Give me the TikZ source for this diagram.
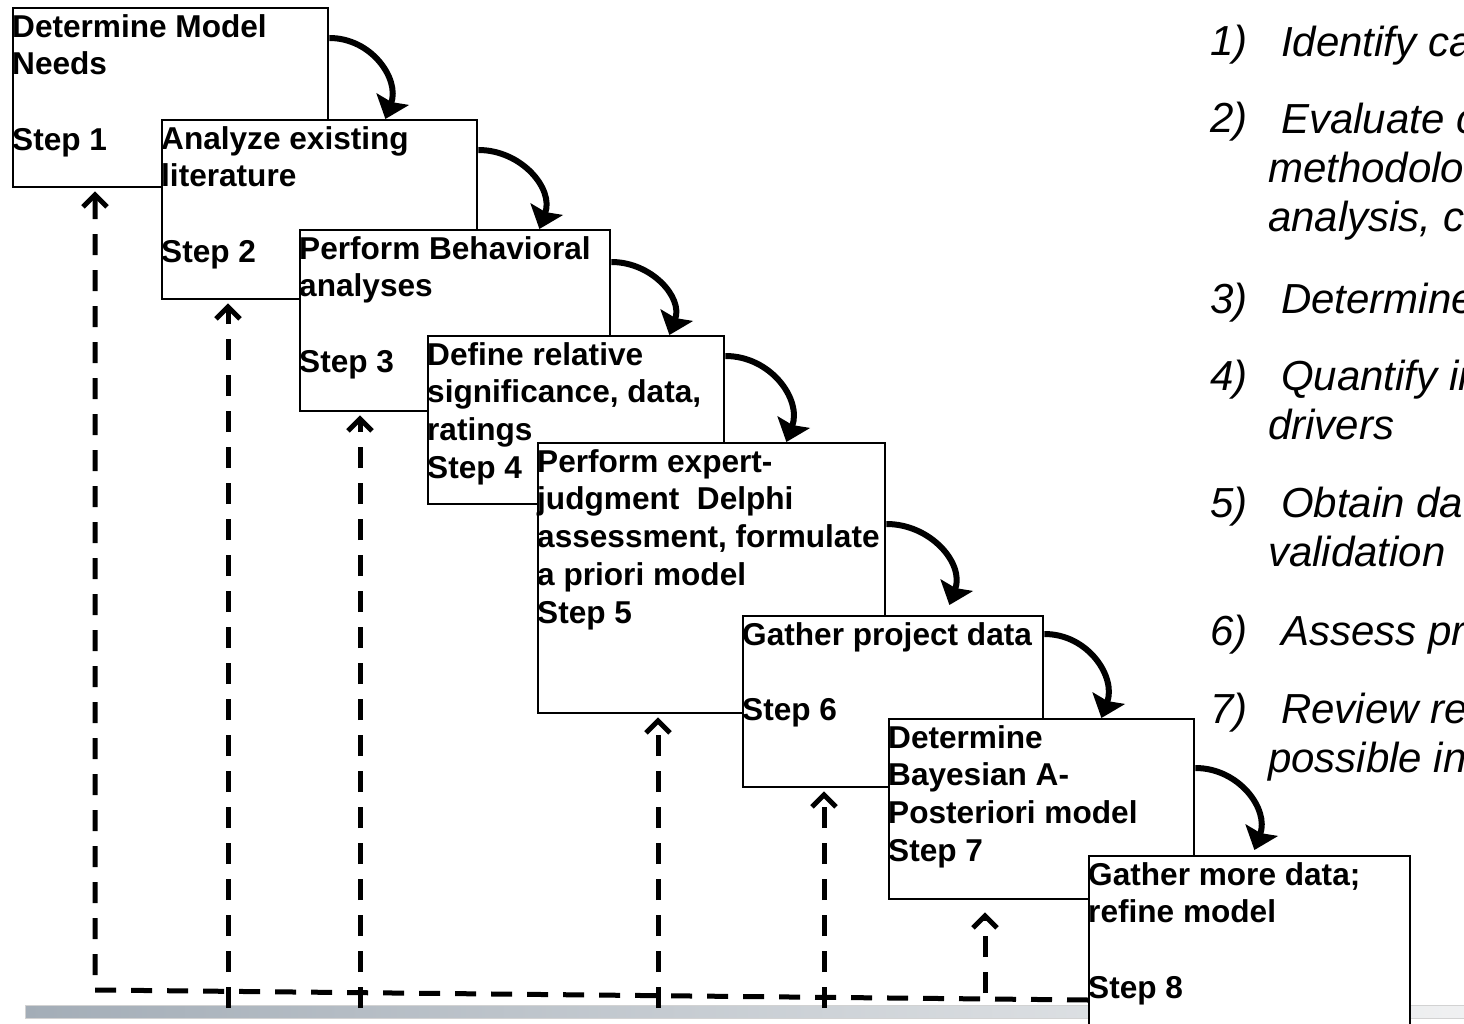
\documentclass[tikz,border=0pt]{standalone}
\usepackage{fontspec}
\setmainfont{Liberation Sans}
\usetikzlibrary{arrows.meta,calc}

\definecolor{barleft}{HTML}{A3ADB7}
\definecolor{barright}{HTML}{F0F1F2}

\begin{document}
\begin{tikzpicture}[x=1pt,y=1pt,
		stepbox/.style={rectangle, draw=black, line width=2.4pt, fill=white, anchor=north west, inner sep=0pt},
		steptext/.style={anchor=north west, inner sep=0pt, align=left, font=\bfseries\fontsize{31.6}{37.7}\selectfont},
		listnum/.style={anchor=base west, inner sep=0pt, font=\itshape\fontsize{42}{49}\selectfont},
		listtext/.style={anchor=north west, inner sep=0pt, align=left, font=\itshape\fontsize{42}{49}\selectfont},
		flow/.style={-{Stealth[width=34pt,length=21pt,inset=3pt]}, line width=6pt, looseness=1.1},
		feedback/.style={-{Straight Barb[width=24pt,length=12pt]}, line width=5pt, dash pattern=on 21pt off 15pt, shorten >=3pt}
		]
		
		\useasboundingbox (0,0) rectangle (1464,-1024);
		\clip (0,0) rectangle (1464,-1024);
		
		% bar along the bottom
		\shadedraw[left color=barleft, right color=barright, draw=gray!35, line width=0.8pt] (25,-1005) rectangle (1470,-1018);
		
		% feedback lines
		\coordinate (c1) at (95,-990);
		\coordinate (c2) at (228,-1008);
		\coordinate (c3) at (360,-1008);
		\coordinate (c5) at (658,-1008);
		\coordinate (c6) at (824,-1008);
		\coordinate (c7) at (985,-993);
		
		% steps
		\node[stepbox, minimum width=315pt, minimum height=179pt] (s1) at (12,-7) {};
		\node[steptext] (t1) at (s1.north west) {\rule{0pt}{30pt}Determine Model\\Needs\\~\\Step 1};
		\node[stepbox, minimum width=315pt, minimum height=179pt] (s2) at (161,-119) {};
		\node[steptext] (t2) at (s2.north west) {\rule{0pt}{30pt}Analyze existing\\literature\\~\\Step 2};
		\node[stepbox, minimum width=310pt, minimum height=181pt] (s3) at (299,-229) {};
		\node[steptext] (t3) at (s3.north west) {\rule{0pt}{30pt}Perform Behavioral\\analyses\\~\\Step 3};
		\node[stepbox, minimum width=296pt, minimum height=168pt] (s4) at (427,-335) {};
		\node[steptext] (t4) at (s4.north west) {\rule{0pt}{30pt}Define relative\\significance, data,\\ratings\\Step 4};
		\node[stepbox, minimum width=347pt, minimum height=270pt] (s5) at (537,-442) {};
		\node[steptext] (t5) at (s5.north west) {\rule{0pt}{30pt}Perform expert-\\judgment~ Delphi\\assessment, formulate\\a priori model\\Step 5};
		\node[stepbox, minimum width=300pt, minimum height=171pt] (s6) at (742,-615) {};
		\node[steptext] (t6) at (s6.north west) {\rule{0pt}{30pt}Gather project data\\~\\Step 6};
		\node[stepbox, minimum width=305pt, minimum height=180pt] (s7) at (888,-718) {};
		\node[steptext] (t7) at (s7.north west) {\rule{0pt}{30pt}Determine\\Bayesian A-\\Posteriori model\\Step 7};
		\node[stepbox, minimum width=321pt, minimum height=200pt] (s8) at (1088,-855) {};
		\node[steptext] (t8) at (s8.north west) {\rule{0pt}{30pt}Gather more data;\\refine model\\~\\Step 8};
		
		\draw[feedback] (s8.west |- 0,-1000) -- (c1) -- (c1 |- s1.south);
		\draw[feedback] (c2) -- (c2 |- s2.south);
		\draw[feedback] (c3) -- (c3 |- s3.south);
		\draw[feedback] (c5) -- (c5 |- s5.south);
		\draw[feedback] (c6) -- (c6 |- s6.south);
		\draw[feedback, shorten >=12pt] (c7) -- (c7 |- s7.south);
		
		% step to step
		\draw[flow] ($(s1.north east)+(0,-31)$) to[out=0, in=70] ($(s1.east |- s2.north)+(56,0)$);
		\draw[flow] ($(s2.north east)+(0,-31)$) to[out=0, in=70] ($(s2.east |- s3.north)+(61,0)$);
		\draw[flow] ($(s3.north east)+(0,-33)$) to[out=0, in=70] ($(s3.east |- s4.north)+(58,0)$);
		\draw[flow] ($(s4.north east)+(0,-21)$) to[out=0, in=70] ($(s4.east |- s5.north)+(61,0)$);
		\draw[flow] ($(s5.north east)+(0,-82)$) to[out=0, in=70] ($(s5.east |- s6.north)+(63,10)$);
		\draw[flow] ($(s6.north east)+(0,-19)$) to[out=0, in=70] ($(s6.east |- s7.north)+(57,0)$);
		\draw[flow] ($(s7.north east)+(0,-50)$) to[out=0, in=70] ($(s7.east |- s8.north)+(59,5)$);
		
		% list on the right
		\node[listnum] (n1) at (1210,-56) {1)};
		\node[listtext] (l1) at (1268,-26) {\rule{0pt}{30pt}\hspace{13pt}Identify ca};
		\node[listnum] (n2) at (1210,-133) {2)};
		\node[listtext] (l2) at (1268,-103) {\rule{0pt}{30pt}\hspace{13pt}Evaluate c\\methodolo\\analysis, c};
		\node[listnum] (n3) at (1210,-313) {3)};
		\node[listtext] (l3) at (1268,-283) {\rule{0pt}{30pt}\hspace{13pt}Determine};
		\node[listnum] (n4) at (1210,-390) {4)};
		\node[listtext] (l4) at (1268,-360) {\rule{0pt}{30pt}\hspace{13pt}Quantify in\\drivers};
		\node[listnum] (n5) at (1210,-517) {5)};
		\node[listtext] (l5) at (1268,-487) {\rule{0pt}{30pt}\hspace{13pt}Obtain da\\validation};
		\node[listnum] (n6) at (1210,-645) {6)};
		\node[listtext] (l6) at (1268,-615) {\rule{0pt}{30pt}\hspace{13pt}Assess pr};
		\node[listnum] (n7) at (1210,-723) {7)};
		\node[listtext] (l7) at (1268,-693) {\rule{0pt}{30pt}\hspace{13pt}Review re\\possible in};
		
	\end{tikzpicture}
\end{document}
